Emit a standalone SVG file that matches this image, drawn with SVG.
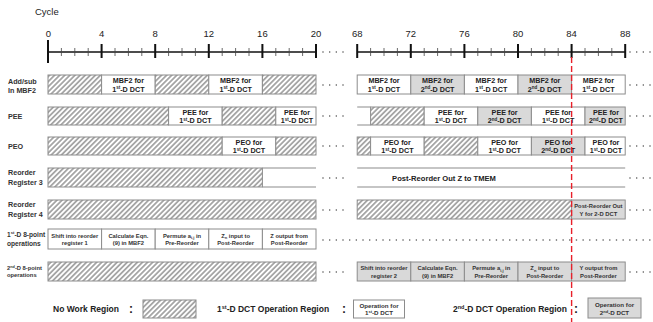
<svg xmlns="http://www.w3.org/2000/svg" width="653" height="322" viewBox="0 0 653 322">
<defs>
<pattern id="hatch" width="3.6" height="3.6" patternUnits="userSpaceOnUse" patternTransform="rotate(45)">
<rect width="3.6" height="3.6" fill="#fff"/>
<line x1="1.8" y1="0" x2="1.8" y2="3.6" stroke="#555" stroke-width="0.95"/>
</pattern>
</defs>
<style>
text{font-family:"Liberation Sans",Arial,sans-serif;fill:#222}
.lab{font-size:7.2px;font-weight:bold;fill:#333}
.lab1{font-size:6.6px;font-weight:bold;fill:#333}
.lab2{font-size:5.8px;font-weight:bold;fill:#333}
.num{font-size:9.5px}
.bx{font-size:7.2px;font-weight:bold;text-anchor:middle}
.sm{font-size:5.8px;font-weight:bold;text-anchor:middle;fill:#333}
.sup{font-size:4.5px}
.h{fill:url(#hatch);stroke:#8c8c8c;stroke-width:1}
.w{fill:#fff;stroke:#8c8c8c;stroke-width:1}
.g{fill:#d9d9d9;stroke:#8c8c8c;stroke-width:1}
.ln{stroke:#8c8c8c;stroke-width:1.2;fill:none}
.dots{stroke:#555;stroke-width:1.6;stroke-linecap:round;stroke-dasharray:0 6.67;fill:none}
.maj{stroke:#111;stroke-width:2;fill:none}
.min{stroke:#444;stroke-width:0.8;fill:none}
.leg{font-size:8.5px;font-weight:bold}
.col{font-size:12px;font-weight:bold}
</style>

<g id="axis">
<text x="35" y="15" style="font-size:9.5px">Cycle</text>
<line x1="48" y1="52" x2="316" y2="52" stroke="#111" stroke-width="1.5"/>
<line x1="357.2" y1="52" x2="625.2" y2="52" stroke="#111" stroke-width="1.5"/>
<path class="maj" d="M48,40V63M101.6,44V58M155.2,44V58M208.8,44V58M262.4,44V58M316,44V58M357.2,44V58M410.8,44V58M464.4,44V58M518,44V58M571.6,44V58M625.2,44V58"/>
<path class="min" d="M61.4,48V56M74.8,48V56M88.2,48V56M115,48V56M128.4,48V56M141.8,48V56M168.6,48V56M182,48V56M195.4,48V56M222.2,48V56M235.6,48V56M249,48V56M275.8,48V56M289.2,48V56M302.6,48V56M370.6,48V56M384,48V56M397.4,48V56M424.2,48V56M437.6,48V56M451,48V56M477.8,48V56M491.2,48V56M504.6,48V56M531.4,48V56M544.8,48V56M558.2,48V56M585,48V56M598.4,48V56M611.8,48V56"/>
<g class="num" text-anchor="middle">
<text x="48.5" y="37">0</text><text x="101.6" y="37">4</text><text x="155.2" y="37">8</text><text x="208.8" y="37">12</text><text x="262.4" y="37">16</text><text x="316" y="37">20</text>
<text x="357.2" y="37">68</text><text x="410.8" y="37">72</text><text x="464.4" y="37">76</text><text x="518" y="37">80</text><text x="571.6" y="37">84</text><text x="625.2" y="37">88</text>
</g>
<path class="dots" d="M323,52H346M630,52H653"/>
</g>

<g id="row-mbf2">
<text class="lab" x="8" y="83.5">Add/sub</text>
<text class="lab" x="8" y="92.5">In MBF2</text>
<rect class="h" x="48" y="75" width="53.6" height="19"/>
<rect class="w" x="101.6" y="75" width="53.6" height="19"/>
<rect class="h" x="155.2" y="75" width="53.6" height="19"/>
<rect class="w" x="208.8" y="75" width="53.6" height="19"/>
<rect class="h" x="262.4" y="75" width="53.6" height="19"/>
<rect class="w" x="357.2" y="75" width="53.6" height="19"/>
<rect class="g" x="410.8" y="75" width="53.6" height="19"/>
<rect class="w" x="464.4" y="75" width="53.6" height="19"/>
<rect class="g" x="518" y="75" width="53.6" height="19"/>
<rect class="w" x="571.6" y="75" width="53.6" height="19"/>
<g class="bx">
<text x="128.4" y="83">MBF2 for</text><text x="128.4" y="91.5">1<tspan class="sup" dy="-2.5">st</tspan><tspan dy="2.5">-D DCT</tspan></text>
<text x="235.6" y="83">MBF2 for</text><text x="235.6" y="91.5">1<tspan class="sup" dy="-2.5">st</tspan><tspan dy="2.5">-D DCT</tspan></text>
<text x="384" y="83">MBF2 for</text><text x="384" y="91.5">1<tspan class="sup" dy="-2.5">st</tspan><tspan dy="2.5">-D DCT</tspan></text>
<text x="437.6" y="83">MBF2 for</text><text x="437.6" y="91.5">2<tspan class="sup" dy="-2.5">nd</tspan><tspan dy="2.5">-D DCT</tspan></text>
<text x="491.2" y="83">MBF2 for</text><text x="491.2" y="91.5">1<tspan class="sup" dy="-2.5">st</tspan><tspan dy="2.5">-D DCT</tspan></text>
<text x="544.8" y="83">MBF2 for</text><text x="544.8" y="91.5">2<tspan class="sup" dy="-2.5">nd</tspan><tspan dy="2.5">-D DCT</tspan></text>
<text x="598.4" y="83">MBF2 for</text><text x="598.4" y="91.5">1<tspan class="sup" dy="-2.5">st</tspan><tspan dy="2.5">-D DCT</tspan></text>
</g>
<path class="dots" d="M323,85H346M630,85H653"/>
</g>

<g id="row-pee">
<text class="lab" x="8" y="119">PEE</text>
<rect class="h" x="48" y="107" width="120.6" height="18"/>
<rect class="w" x="168.6" y="107" width="53.6" height="18"/>
<rect class="h" x="222.2" y="107" width="53.6" height="18"/>
<rect class="w" x="275.8" y="107" width="40.2" height="18"/>
<path class="ln" d="M357.2,107H370.6M357.2,125H370.6"/>
<rect class="h" x="370.6" y="107" width="53.6" height="18"/>
<rect class="w" x="424.2" y="107" width="53.6" height="18"/>
<rect class="g" x="477.8" y="107" width="53.6" height="18"/>
<rect class="w" x="531.4" y="107" width="53.6" height="18"/>
<rect class="g" x="585" y="107" width="40.2" height="18"/>
<g class="bx">
<text x="195.4" y="114.5">PEE for</text><text x="195.4" y="123">1<tspan class="sup" dy="-2.5">st</tspan><tspan dy="2.5">-D DCT</tspan></text>
<text x="297" y="114.5">PEE for</text><text x="297" y="123">1<tspan class="sup" dy="-2.5">st</tspan><tspan dy="2.5">-D DCT</tspan></text>
<text x="451" y="114.5">PEE for</text><text x="451" y="123">1<tspan class="sup" dy="-2.5">st</tspan><tspan dy="2.5">-D DCT</tspan></text>
<text x="504.6" y="114.5">PEE for</text><text x="504.6" y="123">2<tspan class="sup" dy="-2.5">nd</tspan><tspan dy="2.5">-D DCT</tspan></text>
<text x="558.2" y="114.5">PEE for</text><text x="558.2" y="123">1<tspan class="sup" dy="-2.5">st</tspan><tspan dy="2.5">-D DCT</tspan></text>
<text x="606" y="114.5">PEE for</text><text x="606" y="123">2<tspan class="sup" dy="-2.5">nd</tspan><tspan dy="2.5">-D DCT</tspan></text>
</g>
<path class="dots" d="M323,116H346M630,116H653"/>
</g>

<g id="row-peo">
<text class="lab" x="8" y="149">PEO</text>
<rect class="h" x="48" y="137" width="174.2" height="18"/>
<rect class="w" x="222.2" y="137" width="53.6" height="18"/>
<rect class="h" x="275.8" y="137" width="40.2" height="18"/>
<rect class="h" x="357.2" y="137" width="13.4" height="18"/>
<rect class="w" x="370.6" y="137" width="53.6" height="18"/>
<rect class="h" x="424.2" y="137" width="53.6" height="18"/>
<rect class="w" x="477.8" y="137" width="53.6" height="18"/>
<rect class="g" x="531.4" y="137" width="53.6" height="18"/>
<rect class="w" x="585" y="137" width="40.2" height="18"/>
<g class="bx">
<text x="249" y="144.5">PEO for</text><text x="249" y="153">1<tspan class="sup" dy="-2.5">st</tspan><tspan dy="2.5">-D DCT</tspan></text>
<text x="397.4" y="144.5">PEO for</text><text x="397.4" y="153">1<tspan class="sup" dy="-2.5">st</tspan><tspan dy="2.5">-D DCT</tspan></text>
<text x="504.6" y="144.5">PEO for</text><text x="504.6" y="153">1<tspan class="sup" dy="-2.5">st</tspan><tspan dy="2.5">-D DCT</tspan></text>
<text x="558.2" y="144.5">PEO for</text><text x="558.2" y="153">2<tspan class="sup" dy="-2.5">nd</tspan><tspan dy="2.5">-D DCT</tspan></text>
<text x="606" y="144.5">PEO for</text><text x="606" y="153">1<tspan class="sup" dy="-2.5">st</tspan><tspan dy="2.5">-D DCT</tspan></text>
</g>
<path class="dots" d="M323,146H346M630,146H653"/>
</g>

<g id="row-reg3">
<text class="lab" x="8" y="175">Reorder</text>
<text class="lab" x="8" y="185">Register 3</text>
<rect class="h" x="48" y="168" width="214.4" height="19"/>
<path class="ln" d="M262.4,168H316M262.4,187H316M357.2,168H625.2M357.2,187H625.2"/>
<text x="444" y="181" style="font-size:7.6px;font-weight:bold;text-anchor:middle">Post-Reorder Out Z to TMEM</text>
<path class="dots" d="M323,178H346M630,178H653"/>
</g>

<g id="row-reg4">
<text class="lab" x="8" y="207">Reorder</text>
<text class="lab" x="8" y="217">Register 4</text>
<rect class="h" x="48" y="200" width="268" height="19"/>
<rect class="h" x="357.2" y="200" width="214.4" height="19"/>
<rect class="g" x="571.6" y="200" width="53.6" height="19"/>
<text class="sm" x="598.4" y="208">Post-Reorder Out</text>
<text class="sm" x="598.4" y="215.5">Y for 2-D DCT</text>
<path class="dots" d="M323,210H346M630,210H653"/>
</g>

<g id="row-1d">
<text class="lab1" x="7" y="236.5">1<tspan style="font-size:4.2px" dy="-2.3">st</tspan><tspan dy="2.3">-D 8-point</tspan></text>
<text class="lab1" x="7" y="246">operations</text>
<rect class="w" x="48" y="229" width="53.6" height="20"/>
<rect class="w" x="101.6" y="229" width="53.6" height="20"/>
<rect class="w" x="155.2" y="229" width="53.6" height="20"/>
<rect class="w" x="208.8" y="229" width="53.6" height="20"/>
<rect class="w" x="262.4" y="229" width="53.6" height="20"/>
<text class="sm" x="74.8" y="237.5">Shift into reorder</text><text class="sm" x="74.8" y="245">register 1</text>
<text class="sm" x="128.4" y="237.5">Calculate Eqn.</text><text class="sm" x="128.4" y="245">(9) in MBF2</text>
<text class="sm" x="182" y="237.5">Permute a<tspan style="font-size:4px" dy="1.5">i,j</tspan><tspan dy="-1.5"> in</tspan></text><text class="sm" x="182" y="245">Pre-Reorder</text>
<text class="sm" x="235.6" y="237.5">Z<tspan style="font-size:4px" dy="1.5">n</tspan><tspan dy="-1.5"> input to</tspan></text><text class="sm" x="235.6" y="245">Post-Reorder</text>
<text class="sm" x="289.2" y="237.5">Z output from</text><text class="sm" x="289.2" y="245">Post-Reorder</text>
<path class="dots" d="M323,240H653"/>
</g>

<g id="row-2d">
<text class="lab2" x="7" y="269.5">2<tspan style="font-size:3.8px" dy="-2">nd</tspan><tspan dy="2">-D 8-point</tspan></text>
<text class="lab2" x="7" y="277">operations</text>
<rect class="h" x="48" y="262" width="268" height="19"/>
<rect class="g" x="357.2" y="262" width="53.6" height="19"/>
<rect class="g" x="410.8" y="262" width="53.6" height="19"/>
<rect class="g" x="464.4" y="262" width="53.6" height="19"/>
<rect class="g" x="518" y="262" width="53.6" height="19"/>
<rect class="g" x="571.6" y="262" width="53.6" height="19"/>
<text class="sm" x="384" y="270">Shift into reorder</text><text class="sm" x="384" y="277.5">register 2</text>
<text class="sm" x="437.6" y="270">Calculate Eqn.</text><text class="sm" x="437.6" y="277.5">(9) in MBF2</text>
<text class="sm" x="491.2" y="270">Permute a<tspan style="font-size:4px" dy="1.5">i,j</tspan><tspan dy="-1.5"> in</tspan></text><text class="sm" x="491.2" y="277.5">Pre-Reorder</text>
<text class="sm" x="544.8" y="270">Z<tspan style="font-size:4px" dy="1.5">n</tspan><tspan dy="-1.5"> input to</tspan></text><text class="sm" x="544.8" y="277.5">Post-Reorder</text>
<text class="sm" x="598.4" y="270">Y output from</text><text class="sm" x="598.4" y="277.5">Post-Reorder</text>
<path class="dots" d="M323,272H346M630,272H653"/>
</g>

<g id="connectors">
<line x1="571.6" y1="57" x2="571.6" y2="322" stroke="#e8202a" stroke-width="1.4" stroke-dasharray="6 3"/>
</g>

<g id="legend">
<text class="leg" x="53" y="312">No Work Region</text>
<text class="col" x="129" y="313">:</text>
<rect class="h" x="143" y="300" width="53" height="18"/>
<text class="leg" x="217" y="312">1<tspan style="font-size:5.5px" dy="-3">st</tspan><tspan dy="3">-D DCT Operation Region</tspan></text>
<text class="col" x="342" y="313">:</text>
<rect class="w" x="353.5" y="300" width="51" height="18"/>
<text class="sm" x="379" y="307.5" style="font-size:6.2px">Operation for</text>
<text class="sm" x="379" y="315" style="font-size:6.2px">1<tspan style="font-size:4px" dy="-2">st</tspan><tspan dy="2">-D DCT</tspan></text>
<text class="leg" x="453" y="312">2<tspan style="font-size:5.5px" dy="-3">nd</tspan><tspan dy="3">-D DCT Operation Region</tspan></text>
<text class="col" x="574" y="313">:</text>
<rect class="g" x="588" y="298" width="53" height="20"/>
<text class="sm" x="614.5" y="306.5" style="font-size:6.2px">Operation for</text>
<text class="sm" x="614.5" y="314.5" style="font-size:6.2px">2<tspan style="font-size:4px" dy="-2">nd</tspan><tspan dy="2">-D DCT</tspan></text>
</g>
</svg>
